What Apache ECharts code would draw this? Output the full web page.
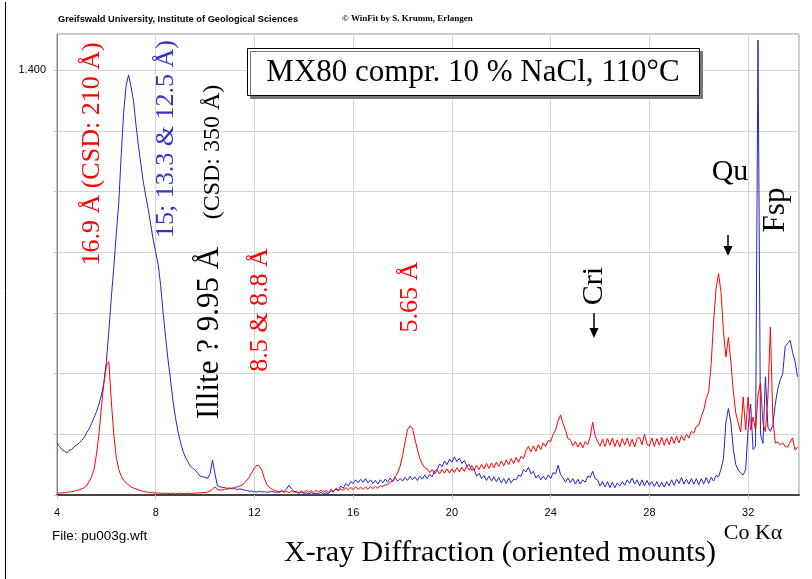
<!DOCTYPE html>
<html>
<head>
<meta charset="utf-8">
<script src="https://cdn.jsdelivr.net/npm/echarts@6/dist/echarts.min.js"></script>
<style>html,body{margin:0;padding:0;background:#fff}#c{width:812px;height:579px}</style>
</head>
<body>
<div id="c"></div>
<script>
// 2-theta sampling grid (degrees, Co K-alpha)
const thetaStart = 4.0;
const thetaStep = 0.1;
const thetaCount = 301;
const xTicks = [4, 8, 12, 16, 20, 24, 28, 32];
const yTickLabel = '1.400';

// Blue pattern
const blueCounts = [
0.171,0.160,0.150,0.145,0.138,0.148,0.150,0.160,0.165,0.172,
0.180,0.190,0.205,0.218,0.235,0.255,0.275,0.300,0.330,0.370,
0.440,0.540,0.650,0.750,0.860,0.960,1.120,1.260,1.350,1.385,
1.345,1.300,1.220,1.150,1.090,1.030,0.985,0.940,0.890,0.840,
0.800,0.760,0.690,0.600,0.520,0.445,0.380,0.310,0.255,0.210,
0.175,0.145,0.125,0.110,0.095,0.088,0.082,0.072,0.062,0.060,
0.058,0.055,0.070,0.115,0.070,0.030,0.027,0.025,0.024,0.022,
0.023,0.020,0.021,0.018,0.020,0.019,0.016,0.015,0.012,0.013,
0.011,0.010,0.012,0.010,0.011,0.009,0.010,0.012,0.010,0.009,
0.011,0.013,0.012,0.020,0.033,0.020,0.012,0.008,0.006,0.009,
0.005,0.007,0.004,0.008,0.003,0.006,0.004,0.009,0.003,0.007,
0.004,0.014,0.010,0.022,0.016,0.030,0.022,0.038,0.030,0.044,
0.038,0.050,0.040,0.052,0.042,0.054,0.040,0.050,0.038,0.048,
0.036,0.050,0.040,0.053,0.042,0.056,0.044,0.058,0.046,0.054,
0.046,0.058,0.048,0.062,0.050,0.060,0.048,0.062,0.052,0.066,
0.054,0.068,0.060,0.080,0.084,0.102,0.094,0.112,0.100,0.118,
0.108,0.126,0.110,0.122,0.104,0.114,0.096,0.100,0.082,0.084,
0.062,0.072,0.054,0.064,0.048,0.062,0.046,0.060,0.044,0.058,
0.040,0.054,0.038,0.056,0.040,0.052,0.050,0.066,0.062,0.084,
0.076,0.092,0.070,0.078,0.056,0.066,0.050,0.062,0.050,0.066,
0.054,0.074,0.070,0.098,0.068,0.056,0.042,0.056,0.040,0.054,
0.036,0.052,0.036,0.050,0.042,0.062,0.058,0.078,0.054,0.050,
0.030,0.044,0.026,0.044,0.024,0.042,0.024,0.040,0.030,0.044,
0.032,0.050,0.038,0.056,0.036,0.050,0.030,0.050,0.030,0.048,
0.032,0.044,0.028,0.044,0.026,0.042,0.026,0.044,0.030,0.050,
0.032,0.052,0.038,0.058,0.036,0.052,0.036,0.054,0.036,0.054,
0.034,0.054,0.036,0.058,0.038,0.058,0.046,0.064,0.060,0.085,
0.120,0.240,0.285,0.240,0.150,0.100,0.082,0.072,0.066,0.085,
0.220,0.300,0.150,0.160,1.500,0.200,0.170,0.390,0.224,0.210,
0.230,0.300,0.350,0.380,0.400,0.490,0.500,0.510,0.470,0.440,
0.390
];

// Red pattern
const redCounts = [
0.007,0.006,0.007,0.008,0.009,0.010,0.011,0.013,0.015,0.017,
0.020,0.024,0.030,0.044,0.060,0.085,0.135,0.200,0.290,0.370,
0.425,0.440,0.310,0.200,0.125,0.085,0.062,0.048,0.040,0.033,
0.027,0.023,0.020,0.017,0.014,0.012,0.010,0.009,0.008,0.007,
0.007,0.006,0.006,0.005,0.006,0.005,0.005,0.006,0.005,0.005,
0.006,0.005,0.005,0.006,0.005,0.006,0.006,0.007,0.007,0.008,
0.008,0.010,0.013,0.020,0.026,0.018,0.016,0.017,0.019,0.020,
0.021,0.023,0.025,0.027,0.030,0.033,0.040,0.050,0.060,0.075,
0.090,0.098,0.095,0.082,0.055,0.035,0.025,0.020,0.016,0.013,
0.008,0.014,0.008,0.013,0.007,0.014,0.009,0.013,0.007,0.014,
0.008,0.015,0.009,0.014,0.007,0.015,0.010,0.016,0.009,0.015,
0.010,0.018,0.012,0.019,0.014,0.020,0.015,0.024,0.017,0.025,
0.018,0.027,0.019,0.026,0.018,0.027,0.019,0.028,0.021,0.029,
0.022,0.031,0.028,0.034,0.034,0.042,0.046,0.060,0.072,0.095,
0.130,0.175,0.215,0.228,0.220,0.185,0.150,0.120,0.102,0.090,
0.086,0.074,0.084,0.070,0.082,0.070,0.084,0.072,0.086,0.072,
0.086,0.074,0.090,0.076,0.092,0.078,0.095,0.082,0.097,0.082,
0.098,0.084,0.101,0.086,0.104,0.088,0.106,0.090,0.108,0.094,
0.112,0.096,0.116,0.100,0.120,0.104,0.124,0.108,0.128,0.120,
0.146,0.160,0.142,0.162,0.144,0.166,0.150,0.172,0.160,0.180,
0.176,0.200,0.214,0.244,0.264,0.236,0.214,0.186,0.182,0.162,
0.176,0.158,0.174,0.156,0.176,0.166,0.192,0.240,0.196,0.176,
0.162,0.184,0.160,0.186,0.164,0.188,0.160,0.182,0.158,0.186,
0.164,0.188,0.160,0.184,0.158,0.186,0.190,0.166,0.200,0.168,
0.162,0.188,0.160,0.186,0.164,0.190,0.164,0.188,0.166,0.192,
0.170,0.194,0.172,0.196,0.180,0.200,0.188,0.210,0.204,0.226,
0.230,0.258,0.280,0.318,0.340,0.430,0.570,0.680,0.730,0.670,
0.540,0.455,0.520,0.440,0.340,0.270,0.237,0.208,0.323,0.214,
0.323,0.214,0.257,0.214,0.330,0.370,0.237,0.208,0.323,0.553,
0.250,0.171,0.175,0.165,0.172,0.160,0.158,0.175,0.188,0.148,
0.158
];

const twoTheta = [];
for (let i = 0; i < thetaCount; i++) twoTheta.push(+(thetaStart + i * thetaStep).toFixed(2));

const blueData = twoTheta.map((t, i) => [t, blueCounts[i]]);
const redData = twoTheta.map((t, i) => [t, redCounts[i]]);

const SERIF = '"Liberation Serif", "Times New Roman", serif';
const SANS = '"Liberation Sans", Arial, sans-serif';

function vtext(text, x, y, size, color) {
  return {
    type: 'text', x: x, y: y, rotation: Math.PI / 2, z: 100,
    style: { text: text, fill: color, font: size + 'px ' + SERIF,
      align: 'center', verticalAlign: 'middle', textAlign: 'center', textVerticalAlign: 'middle' }
  };
}
function htext(text, x, y, font, color, align) {
  return {
    type: 'text', x: x, y: y, z: 100,
    style: { text: text, fill: color || '#000', font: font,
      align: align || 'left', verticalAlign: 'middle', textAlign: align || 'left', textVerticalAlign: 'middle' }
  };
}
function arrowDown(x, y1, y2) {
  return [
    { type: 'line', z: 100, shape: { x1: x, y1: y1, x2: x, y2: y2 - 6 }, style: { stroke: '#000', lineWidth: 1.5 } },
    { type: 'polygon', z: 100, shape: { points: [[x - 4.5, y2 - 10], [x + 4.5, y2 - 10], [x, y2]] }, style: { fill: '#000' } }
  ];
}

const chart = echarts.init(document.getElementById('c'), null, { renderer: 'canvas' });
chart.setOption({
  animation: false,
  backgroundColor: '#fff',
  grid: { left: 57, right: 13, top: 34, bottom: 84, show: true, borderColor: '#8a8a8a', borderWidth: 1 },
  xAxis: {
    type: 'value', min: 4, max: 34.06, interval: 4,
    axisLine: { show: true, onZero: false, lineStyle: { color: '#444', width: 2 } },
    axisTick: { show: true, length: 4, lineStyle: { color: '#c8c8c8' } },
    splitLine: { show: true, lineStyle: { color: '#d4d4d4', width: 1 } },
    axisLabel: { color: '#000', fontSize: 11, fontFamily: SANS, margin: 12, showMaxLabel: false,
      formatter: function (v) { return xTicks.indexOf(Math.round(v * 100) / 100) >= 0 ? String(v) : ''; } }
  },
  yAxis: {
    type: 'value', min: 0, max: 1.52, interval: 0.2,
    axisLine: { show: true, lineStyle: { color: '#8a8a8a' } },
    axisTick: { show: true, length: 3, lineStyle: { color: '#c8c8c8' } },
    splitLine: { show: true, lineStyle: { color: '#d4d4d4', width: 1 } },
    axisLabel: { color: '#000', fontSize: 11, fontFamily: SANS, margin: 11, showMaxLabel: false,
      formatter: function (v) { return Math.abs(v - 1.4) < 1e-6 ? yTickLabel : ''; } }
  },
  series: [
    { name: 'blue', type: 'line', data: blueData, showSymbol: false, symbol: 'none',
      lineStyle: { color: '#2424cc', width: 1 }, itemStyle: { color: '#2424cc' }, z: 2 },
    { name: 'red', type: 'line', data: redData, showSymbol: false, symbol: 'none',
      lineStyle: { color: '#ff0000', width: 1 }, itemStyle: { color: '#ff0000' }, z: 3 }
  ],
  graphic: [].concat(
    [
      { type: 'line', z: 100, shape: { x1: 5.5, y1: 2, x2: 5.5, y2: 579 }, style: { stroke: '#000', lineWidth: 1 } },
      htext('Greifswald University, Institute of Geological Sciences', 58, 19, 'bold 9.3px ' + SANS, '#000'),
      htext('\u00A9 WinFit by S. Krumm, Erlangen', 342, 19, 'bold 9px ' + SERIF, '#000'),
      { type: 'rect', z: 100, shape: { x: 247.5, y: 48.5, width: 452, height: 47 },
        style: { fill: '#fff', stroke: '#000', lineWidth: 1, shadowColor: '#777', shadowOffsetX: 3, shadowOffsetY: 3, shadowBlur: 0 } },
      htext('MX80 compr. 10 % NaCl, 110\u00B0C', 473, 73, '31px ' + SERIF, '#000', 'center'),
      vtext('16.9 \u00C5 (CSD: 210 \u00C5)', 92, 154, 26, '#ff0000'),
      vtext('15; 13.3 & 12.5 \u00C5)', 166, 139, 26, '#3333cc'),
      vtext('(CSD: 350 \u00C5)', 213, 152, 24, '#000'),
      vtext('Illite ? 9.95 \u00C5', 210, 333, 31, '#000'),
      vtext('8.5 & 8.8 \u00C5', 260, 310, 26, '#ff0000'),
      vtext('5.65 \u00C5', 410, 297, 26, '#ff0000'),
      vtext('Cri', 594, 286, 30, '#000'),
      htext('Qu', 730, 172, '30px ' + SERIF, '#000', 'center'),
      vtext('Fsp', 776, 210, 31, '#000'),
      htext('File: pu003g.wft', 52, 536, '13.5px ' + SANS, '#000'),
      htext('Co K\u03B1', 753, 533, '22px ' + SERIF, '#000', 'center'),
      htext('X-ray Diffraction (oriented mounts)', 500, 553, '30px ' + SERIF, '#000', 'center')
    ],
    arrowDown(594, 313, 338),
    arrowDown(728, 235, 256)
  )
});
</script>
</body>
</html>
